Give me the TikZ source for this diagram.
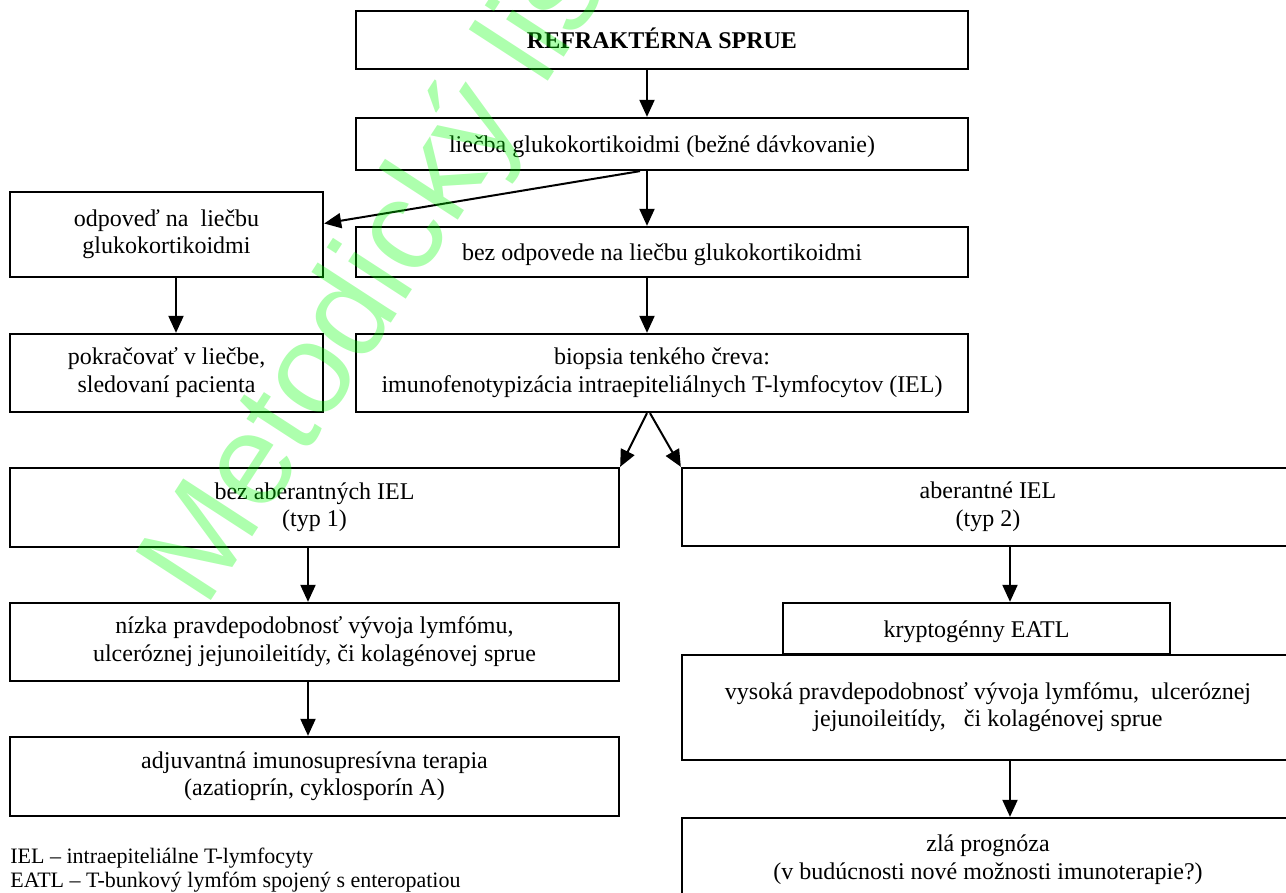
\documentclass[tikz,border=0pt]{standalone}
\usepackage{fontspec}
\setmainfont{Liberation Serif}
\newfontfamily\wmfont{Liberation Sans}
\usepackage{xcolor}
\definecolor{wmGreen}{HTML}{00FF00}
\usetikzlibrary{arrows.meta}

\begin{document}
\begin{tikzpicture}[x=0.5pt, y=-0.5pt,
  >={Triangle[length=8.5pt,width=7.5pt]},
  box/.style={draw, line width=1.15pt, align=center, inner sep=2pt,
    font=\fontsize{12}{13.8}\selectfont,
    execute at begin node={\rule{0pt}{11.5pt}},
    execute at end node={\rule[-3pt]{0pt}{0pt}}},
  flow/.style={->, line width=1pt},
  legend/.style={anchor=base west, inner sep=0pt, font=\fontsize{11}{12.6}\selectfont},
  watermark/.style={anchor=base west, inner sep=0pt, rotate=57, text=wmGreen,
    opacity=0.32, font=\wmfont\fontsize{65}{65}\selectfont}]
  \useasboundingbox (0,0) rectangle (1286,893);
  \coordinate (spine) at (647,0);
  % ---- middle column: treatment ----
  \node[box, minimum width=306pt, minimum height=29pt] (refr) at (662,40)
    {\textbf{REFRAKTÉRNA SPRUE}};
  \node[box, minimum width=306pt, minimum height=26pt] (gluk) at (662,144)
    {liečba glukokortikoidmi (bežné dávkovanie)};
  \node[box, minimum width=306pt, minimum height=25pt] (noresp) at (662,252)
    {bez odpovede na liečbu glukokortikoidmi};
  \node[box, minimum width=306pt, minimum height=39pt] (biop) at (662,373)
    {biopsia tenkého čreva:\\ imunofenotypizácia intraepiteliálnych T-lymfocytov (IEL)};
  % ---- upper left: response ----
  \node[box, minimum width=156.5pt, minimum height=42.5pt] (resp) at (166.5,234.5)
    {odpoveď na\ \ liečbu\\ glukokortikoidmi};
  \node[box, minimum width=156.5pt, minimum height=39pt] (cont) at (166.5,373)
    {pokračovať v liečbe,\\ sledovaní pacienta};
  % ---- type 1 ----
  \node[box, minimum width=304.5pt, minimum height=39.5pt] (typ1) at (314.5,507.5)
    {bez aberantných IEL\\ (typ 1)};
  \node[box, minimum width=304.5pt, minimum height=39pt] (low) at (314.5,642)
    {nízka pravdepodobnosť vývoja lymfómu,\\ ulceróznej jejunoileitídy, či kolagénovej sprue};
  \node[box, minimum width=304.5pt, minimum height=39.5pt] (adj) at (314.5,776.5)
    {adjuvantná imunosupresívna terapia\\ (azatioprín, cyklosporín A)};
  % ---- type 2 ----
  \node[box, minimum width=306pt, minimum height=39pt] (typ2) at (988,507)
    {aberantné IEL\\ (typ 2)};
  \node[box, minimum width=193.5pt, minimum height=25.5pt] (eatl) at (976.5,628.5)
    {kryptogénny EATL};
  \node[box, minimum width=306pt, minimum height=52.5pt] (high) at (988,707.5)
    {vysoká pravdepodobnosť vývoja lymfómu,\ \ ulceróznej\\ jejunoileitídy,\ \ \ či kolagénovej sprue};
  \node[box, minimum width=306pt, minimum height=42pt] (prog) at (988,860)
    {zlá prognóza\\ (v budúcnosti nové možnosti imunoterapie?)};
  % ---- arrows ----
  \draw[flow] (refr.south -| spine) -- (gluk.north -| spine);
  \draw[flow] (gluk.south -| spine) -- (noresp.north -| spine);
  \draw[flow] ([xshift=-3.5pt]gluk.south -| spine) -- ([yshift=5.5pt]resp.east);
  \draw[flow] (noresp.south -| spine) -- (biop.north -| spine);
  \draw[flow] (resp.south -| 176,0) -- (cont.north -| 176,0);
  \draw[flow] (biop.south -| spine) -- (typ1.north east);
  \draw[flow] ([xshift=1.5pt]biop.south -| spine) -- (typ2.north west);
  \draw[flow] (typ1.south -| 308,0) -- (low.north -| 308,0);
  \draw[flow] (low.south -| 308,0) -- (adj.north -| 308,0);
  \draw[flow] (typ2.south -| 1010,0) -- (eatl.north -| 1010,0);
  \draw[flow] (high.south -| 1010,0) -- (prog.north -| 1010,0);
  % ---- abbreviations ----
  \node[legend] (abbr1) at (10,863) {IEL – intraepiteliálne T-lymfocyty};
  \node[legend] (abbr2) at (10,887) {EATL – T-bunkový lymfóm spojený s enteropatiou};
  % ---- watermark ----
  \node[watermark] (wm) at (205,610) {Metodický list};
\end{tikzpicture}
\end{document}
